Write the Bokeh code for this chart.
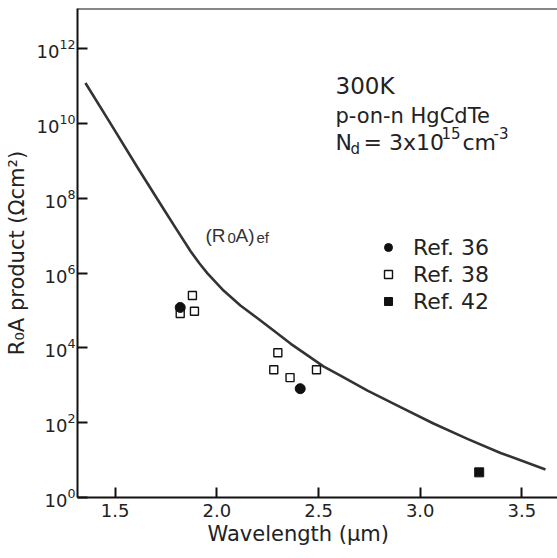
import math
from bokeh.plotting import figure
from bokeh.models import (Range1d, FixedTicker, LogTickFormatter, Span, Label,
                          Legend, LegendItem, Title)
from bokeh.embed import file_html
from bokeh.resources import INLINE

# ---------------- data ----------------
curve_wavelength = [1.354, 1.477, 1.610, 1.743, 1.802, 1.871, 1.915, 1.954, 2.033, 2.116,
                    2.200, 2.279, 2.362, 2.446, 2.524, 2.608, 2.741, 2.903, 3.065, 3.232,
                    3.395, 3.616]
curve_r0a = [1.2e11, 1.0e10, 6.6e8, 4.7e7, 1.47e7, 3.8e6, 1.8e6, 9.8e5, 3.4e5, 1.35e5,
             6.2e4, 2.9e4, 1.3e4, 6.3e3, 3.2e3, 1.8e3, 7.2e2, 2.6e2, 95, 37,
             15.5, 5.6]

ref36_wavelength = [1.82, 2.41]
ref36_r0a = [1.2e5, 8.1e2]

ref38_wavelength = [1.88, 1.82, 1.89, 2.30, 2.28, 2.36, 2.49]
ref38_r0a = [2.5e5, 8.3e4, 9.5e4, 7.4e3, 2.6e3, 1.6e3, 2.6e3]

ref42_wavelength = [3.29]
ref42_r0a = [4.7]

x_ticks = [1.5, 2.0, 2.5, 3.0, 3.5]
x_tick_labels = ["1.5", "2.0", "2.5", "3.0", "3.5"]
y_ticks = [1e0, 1e2, 1e4, 1e6, 1e8, 1e10, 1e12]

# ---------------- layout ----------------
X0, X1 = 1.315, 3.675
Y_EXP_TOP = 13.07
FRAME_L, FRAME_T, FRAME_W, FRAME_H = 77, 8, 480, 489


def px_x(px):
    return X0 + (px - FRAME_L) / FRAME_W * (X1 - X0)


def px_y(py):
    return 10 ** ((FRAME_T + FRAME_H - py) / FRAME_H * Y_EXP_TOP)


p = figure(frame_width=FRAME_W, frame_height=FRAME_H,
           x_range=Range1d(X0, X1), y_range=Range1d(1, 10 ** Y_EXP_TOP),
           y_axis_type="log", output_backend="svg", toolbar_location=None,
           min_border_left=FRAME_L, min_border_right=0,
           min_border_top=FRAME_T, min_border_bottom=61)
p.outline_line_color = None
p.xgrid.visible = False
p.ygrid.visible = False
p.background_fill_color = "white"
p.border_fill_color = "white"

TXT = "#222222"
FONT = "DejaVu Sans"

for ax in (p.xaxis[0], p.yaxis[0]):
    ax.axis_line_width = 2
    ax.axis_line_color = "#111111"
    ax.major_tick_in = 10
    ax.major_tick_out = 0
    ax.major_tick_line_width = 2
    ax.major_tick_line_color = "#111111"
    ax.minor_tick_line_color = None
    ax.major_label_text_font = FONT
    ax.major_label_text_color = TXT

p.xaxis.ticker = FixedTicker(ticks=x_ticks)
p.xaxis.major_label_overrides = {t: l for t, l in zip(x_ticks, x_tick_labels)}
p.xaxis.major_label_text_font_size = "18px"
p.xaxis.major_label_standoff = 6

p.yaxis.ticker = FixedTicker(ticks=y_ticks)
p.yaxis.formatter = LogTickFormatter()
p.yaxis.major_label_text_font_size = "18px"
p.yaxis.major_label_standoff = 2
p.yaxis.axis_label = "R\u2080A product (\u03a9cm\u00b2)"
p.yaxis.axis_label_text_font = FONT
p.yaxis.axis_label_text_font_size = "21px"
p.yaxis.axis_label_text_font_style = "normal"
p.yaxis.axis_label_text_color = TXT
p.yaxis.axis_label_standoff = 5

p.add_layout(Title(text="Wavelength (\u03bcm)", align="left", offset=130,
                   text_font=FONT, text_font_size="21px", text_font_style="normal",
                   text_color=TXT, standoff=0), "below")

# top border
p.add_layout(Span(location=10 ** Y_EXP_TOP, dimension="width",
                  line_color="#111111", line_width=2))

# ---------------- marks ----------------
p.line(curve_wavelength, curve_r0a, line_color="#333333", line_width=2.6,
       line_join="round")

r38 = p.scatter(ref38_wavelength, ref38_r0a, marker="square", size=8,
                fill_color="white", line_color="#111111", line_width=1.4)
r36 = p.scatter(ref36_wavelength, ref36_r0a, marker="circle", size=10,
                fill_color="#111111", line_color="#111111")
r42 = p.scatter(ref42_wavelength, ref42_r0a, marker="square", size=9,
                fill_color="#111111", line_color="#111111")

legend = Legend(items=[LegendItem(label="Ref. 36", renderers=[r36]),
                       LegendItem(label="Ref. 38", renderers=[r38]),
                       LegendItem(label="Ref. 42", renderers=[r42])],
                location=(301, 183), padding=0, margin=0, spacing=1,
                glyph_width=20, glyph_height=26, label_height=26,
                label_standoff=15, border_line_color=None,
                background_fill_alpha=0,
                label_text_font=FONT, label_text_font_size="22px",
                label_text_color=TXT)
p.add_layout(legend)


def add_text(text, px, py, size, font=FONT, align="left", baseline="alphabetic",
             color=TXT):
    p.add_layout(Label(x=px_x(px), y=px_y(py), text=text, text_font=font,
                       text_font_size=f"{size}px", text_color=color,
                       text_align=align, text_baseline=baseline))


# condition block
add_text("300K", 335, 85, 23)
add_text("p-on-n HgCdTe", 335, 115, 21)
add_text("N", 335, 142, 22)
add_text("d", 350, 148, 15)
add_text("= 3x10", 363, 142, 22)
add_text("15", 441, 132, 15)
add_text("cm", 462, 142, 22)
add_text("-3", 493, 132, 15)

# curve annotation (R0A)ef
AF = "Liberation Sans"
add_text("(R", 205, 235, 19, font=AF, color="#333333")
add_text("0", 227, 237, 15, font=AF, color="#333333")
add_text("A)", 235, 235, 19, font=AF, color="#333333")
add_text("ef", 256, 237, 15, font=AF, color="#333333")

open("out.html", "w").write(file_html(p, INLINE))
